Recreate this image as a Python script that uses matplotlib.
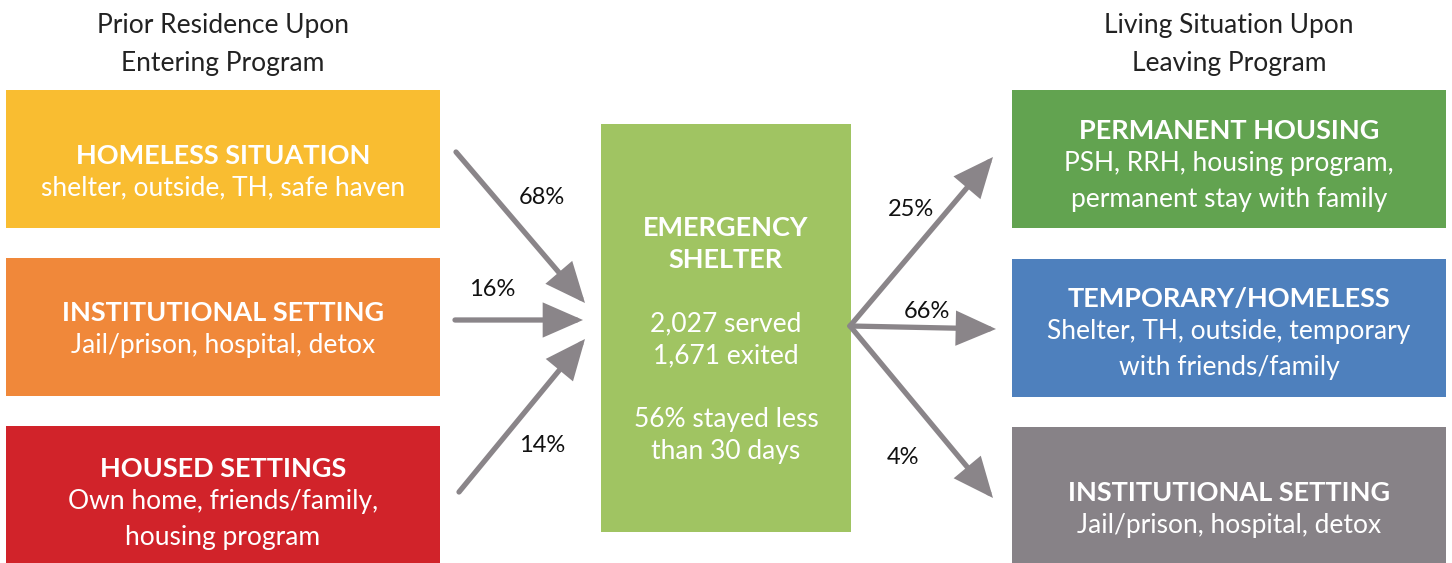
import matplotlib.pyplot as plt
from matplotlib.patches import Rectangle, FancyArrowPatch

plt.rcParams['font.family'] = ['Lato', 'DejaVu Sans']

# data
in_titles = ['HOMELESS SITUATION', 'INSTITUTIONAL SETTING', 'HOUSED SETTINGS']
in_desc = [['shelter, outside, TH, safe haven'],
           ['Jail/prison, hospital, detox'],
           ['Own home, friends/family,', 'housing program']]
in_pct = ['68%', '16%', '14%']
in_colors = ['#F9BD31', '#F0883A', '#D1232A']

out_titles = ['PERMANENT HOUSING', 'TEMPORARY/HOMELESS', 'INSTITUTIONAL SETTING']
out_desc = [['PSH, RRH, housing program,', 'permanent stay with family'],
            ['Shelter, TH, outside, temporary', 'with friends/family'],
            ['Jail/prison, hospital, detox']]
out_pct = ['25%', '66%', '4%']
out_colors = ['#62A350', '#4E80BD', '#878287']

center_title = ['EMERGENCY', 'SHELTER']
center_stats = ['2,027 served', '1,671 exited']
center_note = ['56% stayed less', 'than 30 days']
center_color = '#A0C462'

arrow_color = '#8A8589'

fig = plt.figure(figsize=(14.52, 5.63), dpi=100)
ax = fig.add_axes([0, 0, 1, 1])
ax.set_xlim(0, 1452)
ax.set_ylim(563, 0)
ax.axis('off')

TS, DS = 19.5, 19   # title / description font size
dy = 2              # small nudge so text sits like the original

# column headers
for x, lines in [(223, ['Prior Residence Upon', 'Entering Program']),
                 (1229, ['Living Situation Upon', 'Leaving Program'])]:
    for k, line in enumerate(lines):
        ax.text(x, 24 + dy + 38 * k, line, ha='center', va='center', fontsize=19,
                color='#222222')


def box(x0, x1, top, color, title, desc, ty, step=32):
    ax.add_patch(Rectangle((x0, top), x1 - x0, 138, color=color, lw=0))
    xc = (x0 + x1) / 2
    ax.text(xc, top + ty + dy, title, ha='center', va='center', fontsize=TS,
            fontweight='bold', color='white')
    for k, line in enumerate(desc):
        ax.text(xc, top + ty + dy + step * (k + 1) + (5 * k), line, ha='center',
                va='center', fontsize=DS, color='white')


left_tops = [90, 258, 426]
left_ty = [64, 53, 41]
for i in range(3):
    box(6, 440, left_tops[i], in_colors[i], in_titles[i], in_desc[i], left_ty[i])

right_tops = [90, 259, 427]
right_ty = [39, 38, 64]
for i in range(3):
    box(1012, 1446, right_tops[i], out_colors[i], out_titles[i], out_desc[i], right_ty[i])

# center box
ax.add_patch(Rectangle((601, 124), 250, 408, color=center_color, lw=0))
for k, line in enumerate(center_title):
    ax.text(726, 226 + dy + 32 * k, line, ha='center', va='center', fontsize=TS,
            fontweight='bold', color='white')
for k, line in enumerate(center_stats):
    ax.text(726, 322 + dy + 32 * k, line, ha='center', va='center', fontsize=DS, color='white')
for k, line in enumerate(center_note):
    ax.text(726, 418 + dy + 32 * k, line, ha='center', va='center', fontsize=DS, color='white')

# arrows
in_start = [(456, 152), (455, 320), (459, 492)]
in_end = [(585, 303), (583, 320), (585, 339)]
in_lab = [(542, 198), (492, 290), (542, 446)]
out_start = [(850, 326)] * 3
out_end = [(993, 157), (996, 329), (993, 498)]
out_lab = [(911, 210), (927, 312), (903, 457)]


def arrow(p0, p1):
    ax.add_patch(FancyArrowPatch(p0, p1, arrowstyle='-|>,head_length=1.6,head_width=0.7',
                                 mutation_scale=14, lw=3.8, color=arrow_color,
                                 shrinkA=0, shrinkB=0, joinstyle='miter'))


for i in range(3):
    arrow(in_start[i], in_end[i])
    ax.text(*in_lab[i], in_pct[i], ha='center', va='center', fontsize=17, color='#111111')
    arrow(out_start[i], out_end[i])
    ax.text(*out_lab[i], out_pct[i], ha='center', va='center', fontsize=17, color='#111111')

fig.savefig('out.png', dpi=100)
